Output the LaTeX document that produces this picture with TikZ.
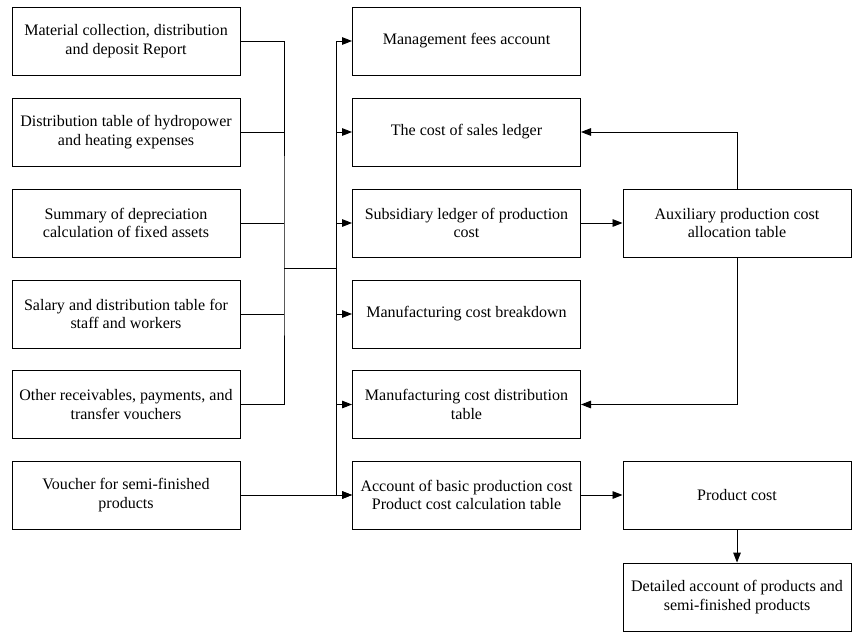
\documentclass[tikz,border=0pt]{standalone}
\usepackage{fontspec}
\setmainfont{Liberation Serif}
\usepackage{xcolor}
\usepackage{tikz}
\usetikzlibrary{positioning,arrows.meta,calc}

\begin{document}
\begin{tikzpicture}[x=0.025cm, y=-0.025cm,
    box/.style={draw, line width=0.65pt, minimum width=5.7cm, minimum height=1.7cm,
      inner sep=0pt, align=center, font=\fontsize{11.4}{13.2}\selectfont},
    link/.style={line width=0.65pt},
    arr/.style={line width=0.65pt, -{Triangle[length=2.5mm,width=1.9mm]}}]
  % canvas: 852 x 632 px, 1px = 0.025cm
  \useasboundingbox (0,0) rectangle (852,632);
  % left column: source documents
  \node[box] (mat) at (126,41) {Material collection, distribution\\and deposit Report};
  \node[box] (hyd) at (126,132) {Distribution table of hydropower\\and heating expenses};
  \node[box] (dep) at (126,223) {Summary of depreciation\\calculation of fixed assets};
  \node[box] (sal) at (126,314) {Salary and distribution table for\\staff and workers};
  \node[box] (oth) at (126,404.5) {Other receivables, payments, and\\transfer vouchers};
  \node[box] (vou) at (126,495) {Voucher for semi-finished\\products};
  % middle column: ledgers
  \node[box] (mgt) at (466.5,41) {Management fees account};
  \node[box] (sales) at (466.5,132) {The cost of sales ledger};
  \node[box] (sub) at (466.5,223) {Subsidiary ledger of production\\cost};
  \node[box] (brk) at (466.5,314) {Manufacturing cost breakdown};
  \node[box] (mdist) at (466.5,404.5) {Manufacturing cost distribution\\table};
  \node[box] (basic) at (466.5,495) {Account of basic production cost\\Product cost calculation table};
  % right column
  \node[box] (aux) at (737,223) {Auxiliary production cost\\allocation table};
  \node[box] (pcost) at (737,495) {Product cost};
  \node[box] (det) at (737,597) {Detailed account of products and\\semi-finished products};
  % collecting bus and distributing bus
  \coordinate (jA) at (284,268);
  \coordinate (jB) at (336,268);
  \draw[link] (mat.east) -| (jA) |- (oth.east);
  \draw[link] (hyd.east) -- (hyd.east -| jA);
  \draw[link] (dep.east) -- (dep.east -| jA);
  \draw[link] (sal.east) -- (sal.east -| jA);
  \draw[link] (jA) -- (jB);
  \draw[arr] (jB) |- (mgt.west);
  \draw[arr] (jB) |- (sales.west);
  \draw[arr] (jB) |- (sub.west);
  \draw[arr] (jB) |- (brk.west);
  \draw[arr] (jB) |- (mdist.west);
  \draw[arr] (jB) |- (basic.west);
  \draw[arr] (vou.east) -- (basic.west);
  % auxiliary allocation loop
  \draw[arr] (sub.east) -- (aux.west);
  \draw[arr] (aux.north) |- (sales.east);
  \draw[arr] (aux.south) |- (mdist.east);
  % product cost
  \draw[arr] (basic.east) -- (pcost.west);
  \draw[arr] (pcost.south) -- (det.north);
\end{tikzpicture}
\end{document}
